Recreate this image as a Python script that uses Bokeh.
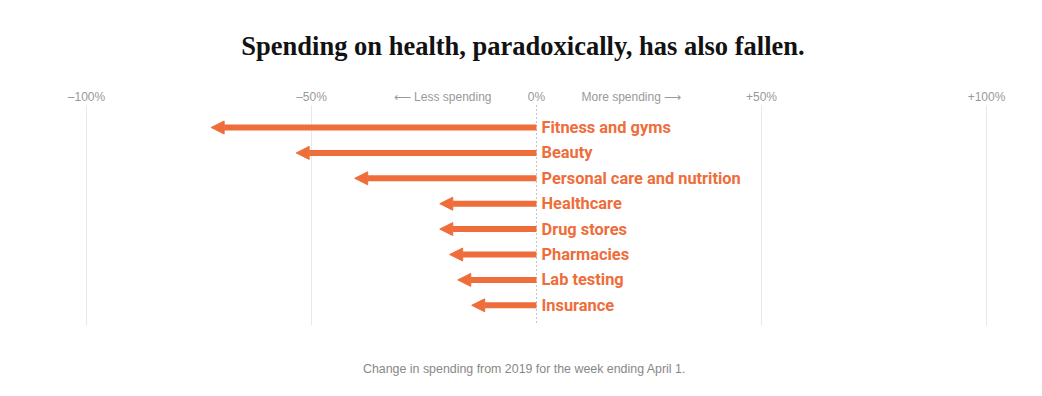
from bokeh.plotting import figure
from bokeh.models import Range1d, ColumnDataSource, Arrow, NormalHead
from bokeh.core.properties import value
from bokeh.embed import file_html
from bokeh.resources import INLINE

# ---- data ----
categories = ["Fitness and gyms", "Beauty", "Personal care and nutrition", "Healthcare",
              "Drug stores", "Pharmacies", "Lab testing", "Insurance"]
changes = [-72.3, -53.4, -40.4, -21.5, -21.5, -19.3, -17.5, -14.4]
tick_values = [-100, -50, 0, 50, 100]
tick_labels = ["–100%", "–50%", "0%", "+50%", "+100%"]
title_text = "Spending on health, paradoxically, has also fallen."
caption_text = "Change in spending from 2019 for the week ending April 1."
less_text = "⟵ Less spending"
more_text = "More spending ⟶"

# ---- layout / style ----
W, H = 1026, 380
PX_PER_PCT = 4.5
ZERO_PX = 536
ORANGE = "#ef6d3b"
GRAY_TXT = "#999999"
ROW0, ROW_STEP = 127, 25.4
GRID_TOP, GRID_BOTTOM = 105, 325

x0 = -ZERO_PX / PX_PER_PCT
x1 = (W - ZERO_PX) / PX_PER_PCT
p = figure(width=W, height=H, output_backend="svg", toolbar_location=None,
           x_range=Range1d(x0, x1), y_range=Range1d(H, 0),
           min_border=0, outline_line_color=None)
p.axis.visible = False
p.grid.visible = False
p.background_fill_color = "white"

rows = [ROW0 + i * ROW_STEP for i in range(len(categories))]

# gridlines
grid_x = [v for v in tick_values if v != 0]
p.segment(x0=grid_x, x1=grid_x, y0=[GRID_TOP] * len(grid_x), y1=[GRID_BOTTOM] * len(grid_x),
          line_color="#e8e8e8", line_width=1)
# zero line (dotted)
p.segment(x0=[0], x1=[0], y0=[GRID_TOP], y1=[GRID_BOTTOM], line_color="#888888",
          line_width=1, line_dash="1 3")

# tick labels
p.text(x=tick_values, y=[96] * len(tick_values), text=tick_labels,
       text_font=value("Liberation Sans"), text_font_size="12px", text_color=GRAY_TXT,
       text_align="center", text_baseline="middle")
p.text(x=[-10], y=[96], text=[less_text], text_font=value("Liberation Sans"),
       text_font_size="12px", text_color=GRAY_TXT, text_align="right", text_baseline="middle")
p.text(x=[10], y=[96], text=[more_text], text_font=value("Liberation Sans"),
       text_font_size="12px", text_color=GRAY_TXT, text_align="left", text_baseline="middle")

# arrows
src = ColumnDataSource(dict(xs=[0] * len(changes), xe=changes, y=rows))
p.add_layout(Arrow(source=src, x_start="xs", y_start="y", x_end="xe", y_end="y",
                   line_color=ORANGE, line_width=6,
                   end=NormalHead(size=13, fill_color=ORANGE, line_color=ORANGE, line_width=1)))

# category labels
p.text(x=[0] * len(categories), y=rows, text=categories, x_offset=5,
       text_font=value("Roboto"), text_font_style="bold", text_font_size="16.4px",
       text_color=ORANGE, text_align="left", text_baseline="middle")

# title
p.text(x=[(522.5 - ZERO_PX) / PX_PER_PCT], y=[45], text=[title_text],
       text_font=value("Liberation Serif"), text_font_style="bold", text_font_size="26.5px",
       text_color="#121212", text_align="center", text_baseline="middle")

# caption
p.text(x=[(524 - ZERO_PX) / PX_PER_PCT], y=[368], text=[caption_text],
       text_font=value("Liberation Sans"), text_font_size="12.4px", text_color="#888888",
       text_align="center", text_baseline="middle")

open("out.html", "w").write(file_html(p, INLINE))
